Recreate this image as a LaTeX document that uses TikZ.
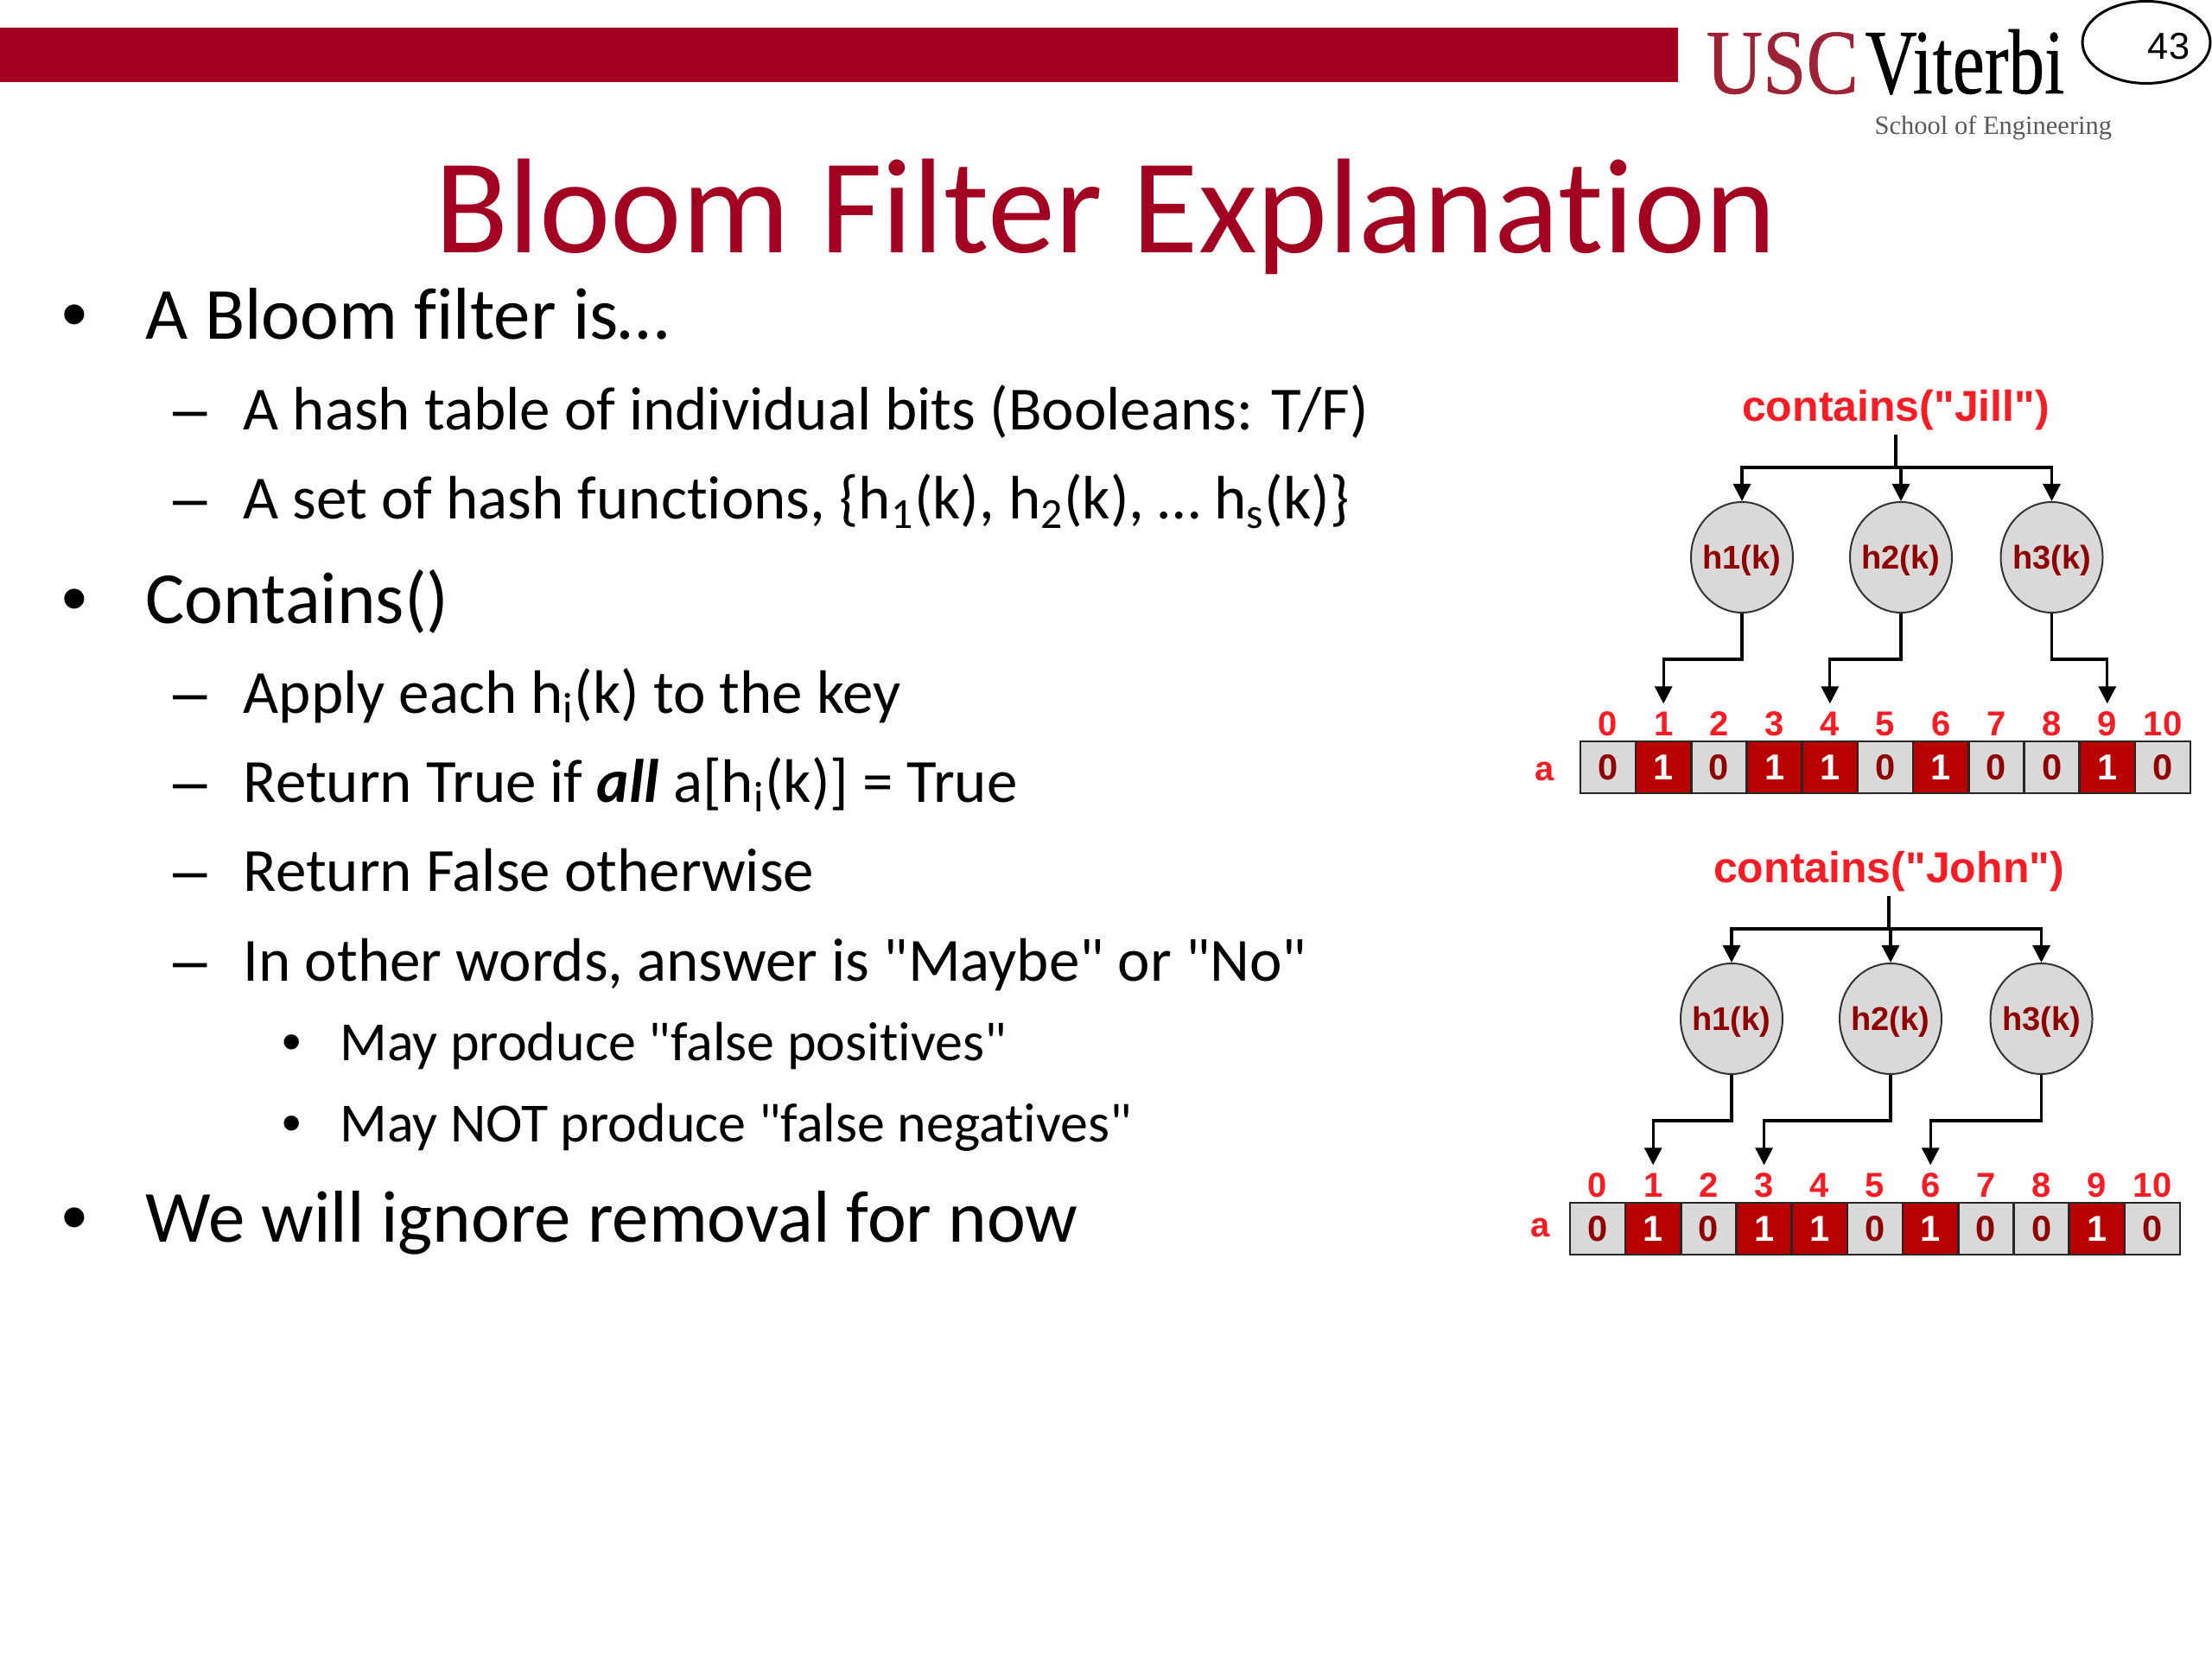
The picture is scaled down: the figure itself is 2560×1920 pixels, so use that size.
\documentclass[tikz,border=0pt]{standalone}
\usepackage{fontspec}
\newfontfamily\bodyfont[Ligatures=NoCommon]{Carlito}
\newfontfamily\arialfont{Liberation Sans}
\newfontfamily\timesfont{Liberation Serif}
\newfontfamily\logofont[FakeBold=0.5]{Liberation Serif}
\usetikzlibrary{shapes,arrows.meta}
\definecolor{uscred}{HTML}{A30021}
\definecolor{logored}{HTML}{9D2235}
\definecolor{brightred}{HTML}{F81C24}
\definecolor{darkred}{HTML}{8F0000}
\definecolor{cellred}{HTML}{B80000}
\definecolor{cellgray}{HTML}{D9D9D9}

\begin{document}
\begin{tikzpicture}[x=0.3pt,y=-0.3pt]
  \tikzstyle{lvlone}=[anchor=base west,inner sep=0,font=\bodyfont\fontsize{25.5}{30}\selectfont]
  \tikzstyle{lvltwo}=[anchor=base west,inner sep=0,font=\bodyfont\fontsize{21.3}{26}\selectfont]
  \tikzstyle{lvlthree}=[anchor=base west,inner sep=0,font=\bodyfont\fontsize{19.2}{23}\selectfont]
  \tikzstyle{listmark}=[anchor=base,inner sep=0]
  \tikzstyle{hashnode}=[ellipse,draw=black!80,line width=0.6pt,fill=cellgray,inner sep=-2pt,minimum width=35.4pt,minimum height=38.4pt,text height=10.3pt,text depth=2.4pt,text=darkred,font=\arialfont\bfseries\fontsize{11.4}{13}\selectfont]
  \tikzstyle{idxlabel}=[inner sep=0,minimum height=13.8pt,text=brightred,font=\arialfont\bfseries\fontsize{12}{14}\selectfont]
  \tikzstyle{bit0}=[fill=cellgray,text=darkred]
  \tikzstyle{bit1}=[fill=cellred,text=white]
  \tikzstyle{bitcell}=[draw=black!85,line width=0.8pt,inner sep=0,minimum width=19.26pt,minimum height=18pt,font=\arialfont\bfseries\fontsize{12.5}{14}\selectfont]
  \tikzstyle{wire}=[line width=1pt,black]
  \tikzstyle{wirearrow}=[wire,-{Triangle[length=6pt,width=6pt]}]
  \useasboundingbox (0,0) rectangle (2560,1920);

  % header
  \fill[uscred] (0,32) rectangle (1942,95);
  \node[anchor=base west,inner sep=0,text=logored,xscale=.85,transform shape,font=\logofont\fontsize{32}{34}\selectfont] (usc) at (1974,108) {USC};
  \node[anchor=base west,inner sep=0,xscale=.78,transform shape,font=\logofont\fontsize{32}{34}\selectfont] (viterbi) at (2158,108) {Viterbi};
  \node[anchor=base west,inner sep=0,text=black!65,font=\timesfont\fontsize{9.15}{11}\selectfont] (school) at (2169,156) {School of Engineering};
  \node[ellipse,draw,line width=.9pt,inner sep=0,minimum width=44.4pt,minimum height=28.5pt] (pageoval) at (2484,49) {};
  \node[inner sep=0,font=\arialfont\fontsize{13}{15}\selectfont] (pagenum) at (2510,54) {43};
  \node[anchor=base,inner sep=0,text=uscred,font=\bodyfont\fontsize{46.9}{54}\selectfont] (title) at (1280,293) {Bloom Filter Explanation};

  % bullets
  \foreach \n/\yy/\txt in {a/393/{A Bloom filter is…},b/722/{Contains()},c/1437/{We will ignore removal for now}} {
    \node[listmark,font=\arialfont\fontsize{25.5}{30}\selectfont] (bul\n) at (86,\yy) {•};
    \node[lvlone] (one\n) at (168,\yy) {\txt};
  }
  \foreach \n/\yy/\txt in {a/498/{A hash table of individual bits (Booleans: T/F)},
      b/601/{A set of hash functions, \{h\textsubscript{1}(k), h\textsubscript{2}(k), … h\textsubscript{s}(k)\}},
      c/826/{Apply each h\textsubscript{i}(k) to the key},
      d/929/{Return True if \textbf{\textit{all}} a[h\textsubscript{i}(k)] = True},
      e/1032/{Return False otherwise},
      f/1135/{In other words, answer is "Maybe" or "No"}} {
    \node[listmark,font=\arialfont\fontsize{21.3}{26}\selectfont] (dash\n) at (220,\yy) {–};
    \node[lvltwo] (two\n) at (281,\yy) {\txt};
  }
  \foreach \n/\yy/\txt in {a/1228/{May produce "false positives"},b/1321/{May NOT produce "false negatives"}} {
    \node[listmark,font=\arialfont\fontsize{19.2}{23}\selectfont] (dot\n) at (338,\yy) {•};
    \node[lvlthree] (three\n) at (393,\yy) {\txt};
  }

  % the two lookups
  \foreach \pre/\who/\dx/\dy/\cx/\ax/\ay/\hitA/\hitB/\hitC in {J/Jill/0/0/2194/1788/893/1/4/9,K/John/-12/534/2198/1795/887/1/3/6} {
    \begin{scope}[shift={(\dx,\dy)},name prefix=\pre-]
      \node[inner sep=0,text height=11pt,text depth=3pt,minimum height=16.8pt,text=brightred,font=\arialfont\bfseries\fontsize{15}{17}\selectfont] (call) at (\cx,474) {contains("\who")};
      \node[text=brightred,inner sep=0,font=\arialfont\bfseries\fontsize{12}{14}\selectfont] (arr) at (\ax,\ay) {a};
      \foreach \i/\v in {0/0,1/1,2/0,3/1,4/1,5/0,6/1,7/0,8/0,9/1,10/0} {
        \node[bitcell,bit\v] (c\i) at ({1861+64.2*\i},888) {\v};
        \node[idxlabel] (idx\i) at ({1861+64.2*\i},838) {\i};
      }
      \coordinate (bus) at (call.south |- 0,541);
      \draw[wire] (call.south) -- (bus);
      \foreach \h/\xx/\hit in {1/2016/\hitA,2/2200/\hitB,3/2374.5/\hitC} {
        \node[hashnode] (h\h) at (\xx,645) {h\h(k)};
        \draw[wirearrow] (bus) -| (h\h.north);
        \draw[wirearrow] (h\h.south) -- ++(0,53) -| (idx\hit.north);
      }
    \end{scope}
  }
\end{tikzpicture}
\end{document}
